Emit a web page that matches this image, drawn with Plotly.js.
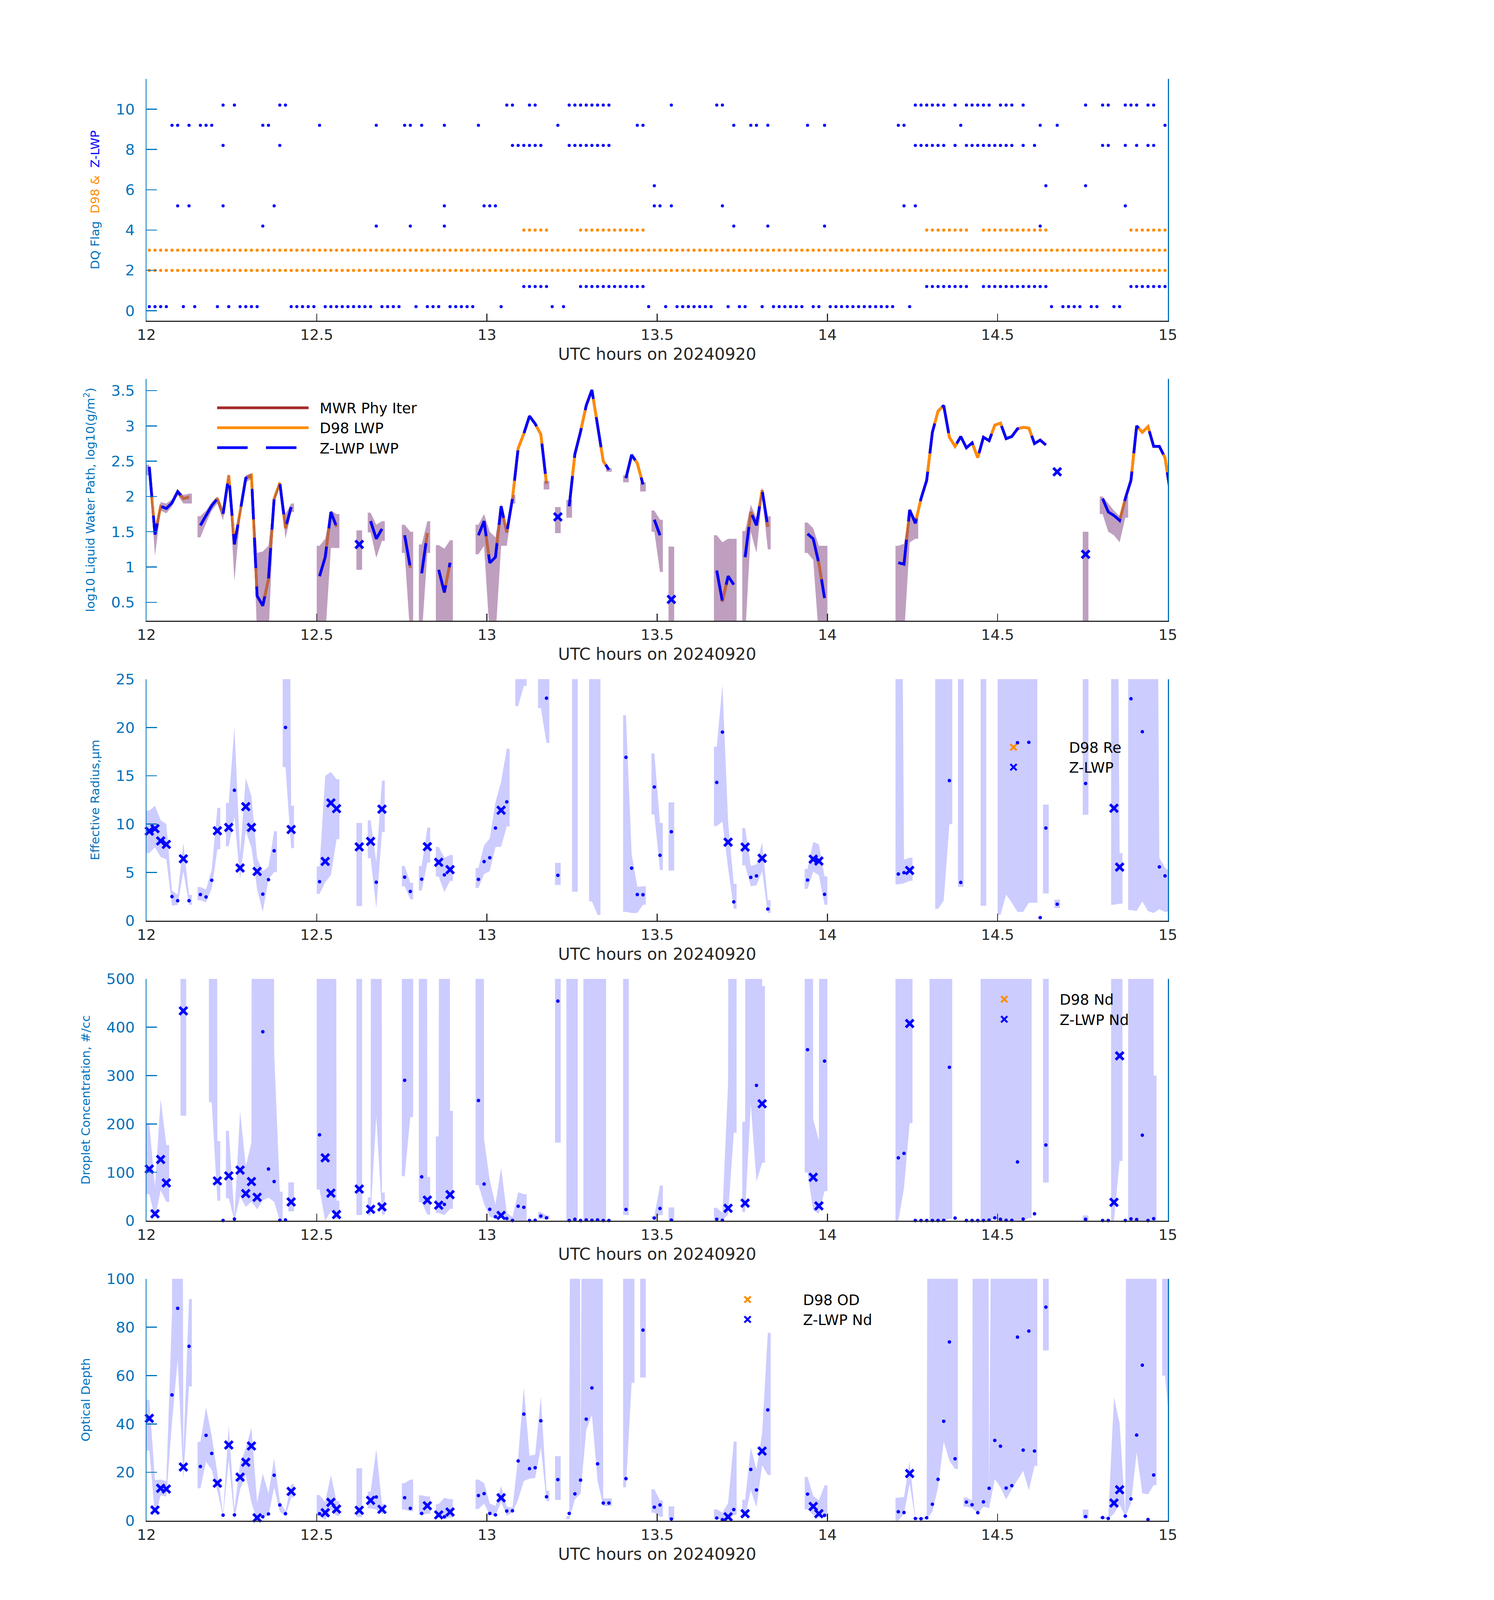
<!DOCTYPE html>
<html><head><meta charset="utf-8">
<script src="https://cdn.plot.ly/plotly-3.0.1.min.js"></script>
<style>html,body{margin:0;padding:0;background:#fff;overflow:hidden}#chart{width:3825px;height:6000px}</style>
</head><body><div id="chart"></div>
<script>
// ---------------- DATA ----------------
// time axis: minute index k after 12:00 UTC on 20240920 (k = 0..180)
const startHour = 12;
const nMinutes = 181;
const allMinutes = Array.from({length: nMinutes}, (_, k) => k);

// Panel 1: data-quality flags (minute indices at which each flag is set)
const d98Flag2Min = allMinutes;
const d98Flag3Min = allMinutes;
const d98Flag4Min = [66,67,68,69,70,76,77,78,79,80,81,82,83,84,85,86,87,137,138,139,140,141,142,143,144,147,148,149,150,151,152,153,154,155,156,157,158,173,174,175,176,177,178,179,180];
const zFlag0Min = [0,1,2,3,6,8,12,14,16,17,18,19,25,26,27,28,29,31,32,33,34,35,36,37,38,39,41,42,43,44,47,49,50,51,53,54,55,56,57,62,71,73,88,91,93,94,95,96,97,98,99,102,104,105,108,110,111,112,113,114,115,117,118,120,121,122,123,124,125,126,127,128,129,130,131,134,159,161,162,163,164,166,167,170,171];
const zFlag1Min = [66,67,68,69,70,76,77,78,79,80,81,82,83,84,85,86,87,137,138,139,140,141,142,143,144,147,148,149,150,151,152,153,154,155,156,157,158,173,174,175,176,177,178,179,180];
const zFlag4Min = [20,40,46,52,103,109,119,157];
const zFlag5Min = [5,7,13,22,52,59,60,61,89,90,92,101,133,135,172];
const zFlag6Min = [89,158,165];
const zFlag8Min = [13,23,64,65,66,67,68,69,74,75,76,77,78,79,80,81,135,136,137,138,139,140,142,144,145,146,147,148,149,150,151,152,154,156,168,169,172,174,176,177];
const zFlag9Min = [4,5,7,9,10,11,20,21,30,40,45,46,48,52,58,72,86,87,103,106,107,109,116,119,132,133,143,157,160,179];
const zFlag10Min = [13,15,23,24,63,64,67,68,74,75,76,77,78,79,80,81,92,100,101,135,136,137,138,139,140,142,144,145,146,147,148,150,151,152,154,165,168,169,172,173,174,176,177];
const zFlagOffset = 0.2;

// Panel 2: log10 LWP  [minute, value]
const lwpPairs = [[0,2.42],[1,1.46],[2,1.86],[3,1.83],[4,1.91],[5,2.07],[6,1.97],[7,1.99],
[9,1.59],[10,1.73],[11,1.87],[12,1.97],[13,1.75],[14,2.30],[15,1.32],[16,1.78],[17,2.26],[18,2.30],[19,0.59],[20,0.45],[21,0.83],[22,1.97],[23,2.19],[24,1.55],[25,1.85],
[30,0.87],[31,1.14],[32,1.78],[33,1.57],[37,1.32],[39,1.65],[40,1.40],[41,1.54],[45,1.45],[46,0.99],[48,0.91],[49,1.48],[51,0.96],[52,0.64],[53,1.06],
[58,1.45],[59,1.65],[60,1.06],[61,1.14],[62,1.86],[63,1.49],[64,1.97],[65,2.68],[66,2.89],[67,3.14],[68,3.03],[69,2.88],[70,2.18],[72,1.71],
[74,1.86],[75,2.60],[76,2.92],[77,3.29],[78,3.51],[79,3.03],[80,2.50],[81,2.38],[84,2.26],[85,2.59],[86,2.47],[87,2.17],[89,1.67],[90,1.45],[92,0.54],
[100,0.95],[101,0.51],[102,0.87],[103,0.75],[105,1.14],[106,1.78],[107,1.59],[108,2.09],[109,1.57],[116,1.47],[117,1.40],[118,1.05],[119,0.56],
[132,1.06],[133,1.04],[134,1.81],[135,1.62],[136,1.97],[137,2.23],[138,2.91],[139,3.21],[140,3.29],[141,2.84],[142,2.71],[143,2.85],[144,2.69],[145,2.76],[146,2.55],[147,2.84],[148,2.79],[149,3.01],[150,3.04],[151,2.82],[152,2.85],[153,2.96],[154,2.98],[155,2.97],[156,2.75],[157,2.80],[158,2.73],
[160,2.35],[165,1.18],[168,1.97],[169,1.78],[170,1.73],[171,1.66],[172,1.97],[173,2.23],[174,3.00],[175,2.91],[176,2.99],[177,2.71],[178,2.71],[179,2.55],[180,2.02]];
// LWP uncertainty band [minute, low, high]
const lwpBand = [[0,2.30,2.45],[1,1.16,1.55],[2,1.80,1.92],[3,1.76,1.90],[4,1.86,1.96],[5,2.02,2.10],[6,1.90,2.02],[7,1.90,2.04],
[9,1.42,1.72],[10,1.62,1.80],[11,1.80,1.92],[12,1.90,2.00],[13,1.66,1.82],[14,2.25,2.32],[15,0.80,1.40],[16,1.70,1.84],[17,2.20,2.30],[18,2.25,2.33],[19,0,1.20],[20,0,1.22],[21,0,1.30],[22,1.90,2.00],[23,2.15,2.22],[24,1.40,1.75],[25,1.78,1.90],
[30,0,1.30],[31,0,1.40],[32,1.27,1.80],[33,1.27,1.75],[37,0.96,1.52],[39,1.49,1.77],[40,1.13,1.60],[41,1.37,1.65],[45,1.20,1.60],[46,0,1.50],[48,0,1.32],[49,1.20,1.65],
[51,0,1.31],[52,0,1.26],[53,0,1.38],[58,1.18,1.60],[59,1.30,1.75],[60,0,1.50],[61,0,1.42],[62,1.30,1.90],[63,1.30,1.55],[64,1.90,2.02],[70,2.10,2.22],[72,1.48,1.85],[74,1.70,1.95],[81,2.35,2.40],
[84,2.20,2.30],[87,2.07,2.20],[89,1.50,1.80],[90,0.93,1.67],[92,0,1.29],[100,0,1.45],[101,0,1.35],[102,0,1.40],[103,0,1.40],[105,0,1.51],[106,1.50,1.88],[107,1.20,1.70],[108,2.00,2.13],[109,1.25,1.72],
[116,1.20,1.63],[117,1.10,1.55],[118,0,1.30],[119,0,1.30],[132,0,1.30],[133,0,1.33],[134,1.35,1.80],[135,1.40,1.70],[165,0,1.50],[168,1.75,2.00],[169,1.50,1.90],[170,1.45,1.80],[171,1.35,1.72],[172,1.70,2.00]];

// Panel 3: effective radius (um)
const rePairs = [[0,9.27],[1,9.53],[2,8.26],[3,7.9],[4,2.5],[5,2.07],[6,6.41],[7,2.07],[9,2.71],[10,2.46],[11,4.19],[12,9.31],[14,9.65],[15,13.5],[16,5.46],[17,11.81],[18,9.65],[19,5.10],[20,2.75],[21,4.25],[22,7.24],[24,20.0],[25,9.44],
[30,4.04],[31,6.14],[32,12.19],[33,11.6],[37,7.64],[39,8.21],[40,3.98],[41,11.54],[45,4.51],[46,3.03],[48,4.30],[49,7.66],[51,6.05],[52,4.74],[53,5.29],[58,4.28],[59,6.12],[60,6.52],[61,9.59],[62,11.43],[63,12.30],[70,23.03],[72,4.70],
[84,16.91],[85,5.44],[86,2.71],[87,2.69],[89,13.84],[90,6.77],[92,9.21],[100,14.31],[101,19.52],[102,8.13],[103,1.95],[105,7.62],[106,4.49],[107,4.64],[108,6.46],[109,1.21],[116,4.21],[117,6.37],[118,6.18],[119,2.73],
[132,4.83],[133,4.97],[134,5.21],[141,14.5],[143,3.96],[153,18.42],[155,18.46],[157,0.32],[158,9.59],[160,1.71],[165,14.2],[170,11.64],[171,5.55],[173,22.97],[175,19.56],[178,5.57],[179,4.64],[180,4.28]];
const reBand = [[0,7.0,11.4],[1,7.6,11.9],[2,6.6,10.4],[3,6.35,10.0],[4,1.55,3.13],[5,1.65,2.7],[6,5.12,8.07],[7,1.65,2.67],[9,2.12,3.49],[10,1.9,3.24],[11,3.34,5.29],[12,7.39,11.68],[14,7.7,12.19],[15,10.75,20.07],[16,4.3,6.94],[17,9.27,14.78],[18,7.58,12.87],[19,3.24,6.48],[20,0.91,5.14],[21,4.3,5.57],[22,5.04,9.27],[24,15.9,99],[25,7.51,11.9],
[30,2.77,5.61],[31,3.98,14.99],[32,4.72,15.4],[33,8.43,14.63],[37,1.52,10.12],[39,6.48,10.39],[40,1.27,6.1],[41,9.17,14.5],[45,3.56,5.67],[46,2.22,3.92],[48,3.13,5.67],[49,6.03,9.63],[51,4.57,7.64],[52,2.96,6.52],[53,4.13,6.8],
[58,3.39,5.46],[59,4.83,7.79],[60,5.14,8.53],[61,7.62,12.24],[62,7.66,14.42],[63,9.76,17.8],[65,22.2,99],[66,24.3,99],[69,22.0,99],[70,18.4,99],[72,3.7,5.99],[75,3.0,99],[78,2.0,99],[79,0.6,99],
[84,0.91,21.27],[85,0.8,6.94],[86,0.8,3.51],[87,1.65,3.56],[89,11.0,17.32],[90,5.25,10.12],[92,5.19,12.24],[100,9.8,18.0],[101,10.27,24.4],[102,5.46,10.27],[103,1.23,3.83],[105,5.74,9.59],[106,3.56,5.67],[107,3.66,5.82],[108,5.12,8.11],[109,0.8,2.12],
[116,3.3,5.36],[117,5.08,8.17],[118,4.7,7.9],[119,1.65,4.59],[132,3.77,99],[133,3.87,6.31],[134,4.13,6.52],[139,1.23,99],[140,2.07,99],[141,10.0,99],[143,3.5,99],[147,1.55,99],
[150,0.6,99],[151,2.7,99],[152,1.86,99],[153,0.91,99],[154,0.91,99],[155,1.86,99],[156,1.86,99],[158,2.82,12.02],[160,1.33,2.18],[165,10.97,99],[170,1.65,99],[171,1.76,7.0],
[173,1.1,99],[174,1.0,99],[175,2.0,99],[176,1.0,99],[177,0.8,99],[178,1.2,6.5],[179,0.9,5.5],[180,1.0,5.0]];

// Panel 4: droplet concentration (#/cc)
const ndPairs = [[0,106.8],[1,14.3],[2,126.6],[3,78.1],[6,433.8],[12,82.3],[13,0.4],[14,92.8],[15,3.4],[16,104.6],[17,56.1],[18,81.0],[19,48.5],[20,390.7],[21,106.8],[22,81.0],[23,0.8],[24,1.7],[25,38.8],
[30,177.6],[31,130.0],[32,57.0],[33,12.7],[37,65.4],[39,23.6],[41,28.7],[45,290.3],[48,90.7],[49,42.6],[51,32.1],[52,33.8],[53,54.0],[58,248.5],[59,75.9],[60,23.6],[61,8.4],[62,11.0],[63,4.6],[64,0.4],[65,30.0],[66,27.8],[67,0.4],[68,0.8],[69,9.7],[70,5.9],
[72,454],[74,0.4],[75,3.0],[76,0.4],[77,1.7],[78,0.8],[79,1.7],[80,0.4],[81,0.4],[84,23.2],[89,5.5],[90,25.3],[92,1.3],[100,3.0],[101,0.8],[102,25.7],[105,36.3],[107,279.7],[108,241.8],[116,353.6],[117,89.9],[118,30.8],[119,330],
[132,130],[133,139.2],[134,407.6],[135,0.4],[136,0.4],[137,0.4],[138,0.4],[139,0.4],[140,0.8],[141,317.3],[142,5.5],[144,0.4],[145,0.4],[146,0.4],[147,0.4],[148,1.3],[149,5.9],[150,3.0],[151,0.8],[152,0.8],[153,121.5],[154,3.4],[156,14.3],[158,156.5],
[165,3.0],[168,0.4],[169,0.4],[170,38.0],[171,340.9],[172,0.4],[173,3.8],[174,2.5],[175,176.8],[176,0.4],[177,4.2]];
const ndBand = [[0,55,200],[1,5,70],[2,63,252],[3,39,156.5],[6,217,9999],[11,245,9999],[12,41.4,164.6],[14,46.4,185.7],[15,0,10.5],[16,49.8,226],[17,28.7,113],[18,39.2,161.6],[19,23.6,9999],[20,42.2,9999],[21,47.7,9999],[22,39.2,350],[23,0,60],[25,19.4,79.3],
[30,64.6,9999],[31,0,9999],[32,20.3,9999],[33,3.4,41.4],[37,11.8,9999],[39,11,48.5],[40,215.6,9999],[41,12.7,58.2],[45,92,9999],[46,214.3,9999],[48,38,9999],[49,12.7,90.7],[51,16,174.3],[52,11.8,9999],[53,24.5,227],
[58,73.8,9999],[59,35,168],[60,8.4,83.5],[61,3.4,33.8],[62,5.5,109.7],[63,0,16],[64,0,7.6],[65,0,59],[66,0,54.9],[69,3.4,18],[70,3.4,11],[72,161.6,9999],[74,0,9999],[75,0,9999],[77,0,9999],[78,0,9999],[79,0,9999],[80,0,9999],[84,11.8,9999],
[89,3.4,9.7],[90,11.8,73],[92,0,27.4],[100,2,26.6],[101,0,16],[102,12.7,284],[103,182,9999],[105,18.1,204.6],[106,239.7,9999],[107,80.6,9999],[108,120,485],[116,99.6,9999],[117,21,210],[118,14.8,165.8],[119,61.2,9999],
[132,0,9999],[133,67.5,9999],[134,201.7,9999],[138,0,9999],[139,0,9999],[140,0,9999],[141,4,9999],[147,0,9999],[148,0,9999],[149,5.5,9999],[150,0,9999],[151,0,9999],[152,0,9999],[153,0,9999],[154,0,9999],[155,5.5,9999],[158,79,9999],
[165,0,11],[170,0,9999],[171,123.6,9999],[173,0,9999],[174,0,9999],[175,0,9999],[176,0,9999],[177,0,300]];

// Panel 5: optical depth
const odPairs = [[0,42.3],[1,4.4],[2,13.4],[3,13.1],[4,52.0],[5,87.8],[6,22.2],[7,72.1],[9,22.4],[10,35.3],[11,27.8],[12,15.5],[13,2.3],[14,31.3],[15,2.4],[16,18.0],[17,24.2],[18,30.9],[19,1.2],[20,1.6],[21,2.8],[22,18.8],[23,6.5],[24,2.9],[25,12.1],
[30,2.9],[31,3.3],[32,7.6],[33,4.8],[37,4.3],[39,8.4],[40,9.8],[41,4.7],[45,9.5],[46,5.1],[48,3.0],[49,6.2],[51,2.4],[52,1.6],[53,3.6],[58,10.4],[59,11.2],[60,3.0],[61,2.4],[62,9.5],[63,4.0],[64,4.1],[65,24.7],[66,44.1],[67,21.5],[68,21.9],[69,41.3],[70,9.9],
[72,17.0],[74,3.0],[75,11.1],[76,16.8],[77,42.0],[78,54.9],[79,23.5],[80,7.3],[81,7.3],[84,17.4],[87,78.8],[89,5.6],[90,6.5],[92,0.7],[100,1.1],[101,0.4],[102,1.6],[103,4.6],[105,2.9],[106,21.2],[107,12.7],[108,28.8],[109,45.8],
[116,11.0],[117,5.9],[118,2.9],[119,2.2],[132,3.7],[133,3.4],[134,19.5],[135,0.9],[136,0.8],[137,1.2],[138,6.8],[139,17.1],[140,41.1],[141,73.9],[142,25.6],[144,7.7],[145,6.6],[146,3.3],[147,7.8],[148,13.4],[149,33.2],[150,30.8],[151,13.5],[152,14.5],[153,75.9],[154,29.2],[155,78.4],[156,28.8],[158,88.3],
[165,1.7],[168,1.3],[169,0.9],[170,7.3],[171,12.8],[172,1.9],[173,9.0],[174,35.4],[175,64.3],[176,0.5],[177,18.9],[180,44.5]];
const odBand = [[0,29,50],[1,1.9,16.8],[2,10.5,17],[3,10,16.4],[4,40.6,86],[5,66.8,999],[6,17.3,27.9],[7,55.5,91.6],[9,13.4,32.6],[10,24.4,46.9],[11,21.0,35.1],[12,12.3,19.5],[13,1.6,2.9],[14,25.0,39.4],[15,0.5,4.7],[16,13.0,23.5],[17,18.9,29.9],[18,7.5,38.5],[19,0,7.5],[20,1.6,19.5],[21,2.0,11.3],[22,13.8,25.8],[23,3.7,7.9],[24,1.9,4.0],[25,9.6,15.1],
[30,2.0,10.6],[31,0.2,7.7],[32,4.6,18.9],[33,2.0,8.1],[37,1.5,21.7],[39,5.1,12.0],[40,4.6,29.6],[41,2.9,6.9],[45,4.6,15.5],[46,3.9,17.0],[48,2.4,10.5],[49,2.9,10.0],[51,1.4,6.9],[52,0.8,9.5],[53,1.2,8.9],
[58,4.8,17.0],[59,7.1,15.5],[60,2.4,7.1],[61,2.0,6.1],[62,7.7,14.4],[63,2.0,5.8],[64,3.3,5.4],[65,8.8,26.1],[66,16.4,55.2],[67,17.4,26.9],[68,17.6,27.3],[69,30.3,51.4],[70,8.1,12.4],[72,8.6,26.7],[74,0.5,1.9],[75,8.8,999],[76,11.3,21.4],[77,37.5,999],[78,43.8,999],[79,16.4,999],[80,6.1,9.2],[81,6.1,9.2],
[84,13.8,999],[85,57,999],[87,59.2,999],[89,3.3,13.0],[90,1.6,8.4],[92,0.5,5.9],[100,0.8,4.7],[101,0,3.3],[102,0,7.3],[103,2.4,32.7],[105,1.6,8.7],[106,12.7,30.3],[107,5.6,21.2],[108,22.9,36.2],[109,18.9,77.7],
[116,4.7,18.1],[117,2.4,10.3],[118,1.2,8.4],[119,1.6,14.6],[132,0,9.5],[133,2.9,9.8],[134,15.4,24.6],[135,0.4,1.4],[136,0.5,1.2],[137,0.8,1.6],[138,3.7,999],[139,13.8,999],[140,32.8,999],[141,24.8,999],[142,21.4,999],
[144,5.8,9.6],[145,5.2,8.4],[146,3.0,999],[147,5.8,999],[148,5.2,11.3],[149,17.2,999],[150,13.8,999],[151,8.8,999],[152,13.0,999],[153,16.8,999],[154,20.6,999],[155,12.6,999],[156,22.7,999],[158,70.4,999],
[165,1.0,4.6],[168,0.7,1.6],[169,0.7,1.6],[170,2.9,51],[171,6.7,40.2],[172,1.6,2.4],[173,7.1,999],[174,28.2,999],[175,11.3,999],[176,10.9,999],[177,14.7,999],[179,60,999],[180,35,999]];

// ---------------- SIZE (fit the visible window height) ----------------
const W = 3825;
const H = Math.min(6000, Math.max(1500, window.innerHeight || 6000));
const sy = H / 6000;
document.getElementById('chart').style.height = H + 'px';
const mt = Math.round(296 * sy), mb = Math.round(297 * sy);
const plotH = H - mt - mb;
const fTick = Math.round(42 * (0.7 + 0.3 * sy));
const fXTitle = Math.round(46 * (0.7 + 0.3 * sy));
const fYTitle = Math.round(46 * sy);
const fLegend = Math.round(42 * (0.6 + 0.4 * sy));
const legendY = refRowPx => ((H - mb) - (refRowPx * sy - 0.62 * fLegend)) / plotH;

// ---------------- HELPERS ----------------
const FONT = 'DejaVu Sans, Liberation Sans, sans-serif';
const BLUE = '#0000FF', ORANGE = '#FF8C00', BROWN = '#A52A2A', AXBLUE = '#0072BD', DARK = '#262626';
const tHour = k => startHour + (k + 0.5) / 60;
const goodSet = new Set(zFlag0Min);
const xSize = Math.round(22 * (0.7 + 0.3 * sy));

function fullSeries(pairs) {
  const y = new Array(nMinutes).fill(null);
  pairs.forEach(([k, v]) => { y[k] = v; });
  return y;
}
// band polygons: linear between minute centres, flat half-minute caps at segment ends
function bandShape(band) {
  const x = [], y = [];
  let i = 0;
  while (i < band.length) {
    let j = i;
    while (j + 1 < band.length && band[j + 1][0] === band[j][0] + 1) j++;
    const ux = [], uy = [], lx = [], ly = [];
    const kA = band[i][0], kB = band[j][0];
    ux.push(startHour + kA / 60); uy.push(band[i][2]); lx.push(startHour + kA / 60); ly.push(band[i][1]);
    for (let n = i; n <= j; n++) {
      const [k, lo, hi] = band[n];
      ux.push(tHour(k)); uy.push(hi); lx.push(tHour(k)); ly.push(lo);
    }
    ux.push(startHour + (kB + 1) / 60); uy.push(band[j][2]); lx.push(startHour + (kB + 1) / 60); ly.push(band[j][1]);
    x.push(...ux, ...lx.reverse(), ux[0], null);
    y.push(...uy, ...ly.reverse(), uy[0], null);
    i = j + 1;
  }
  return {x, y};
}
function flagPoints(lists) {
  const x = [], y = [];
  lists.forEach(([lvl, mins]) => mins.forEach(k => { x.push(tHour(k)); y.push(lvl); }));
  return {x, y};
}

const traces = [];
// ---- Panel 1
const d98pts = flagPoints([[2, d98Flag2Min], [3, d98Flag3Min], [4, d98Flag4Min]]);
traces.push({type: 'scatter', mode: 'markers', x: d98pts.x, y: d98pts.y, xaxis: 'x', yaxis: 'y', showlegend: false, cliponaxis: false,
  marker: {color: ORANGE, size: 8}});
const zpts = flagPoints([[0, zFlag0Min], [1, zFlag1Min], [4, zFlag4Min], [5, zFlag5Min], [6, zFlag6Min], [8, zFlag8Min], [9, zFlag9Min], [10, zFlag10Min]]
  .map(([l, m]) => [l + zFlagOffset, m]));
traces.push({type: 'scatter', mode: 'markers', x: zpts.x, y: zpts.y, xaxis: 'x', yaxis: 'y', showlegend: false, cliponaxis: false,
  marker: {color: BLUE, size: 8}});

// ---- Panel 2
const xGrid = allMinutes.map(tHour);
const lwpY = fullSeries(lwpPairs);
const nb = '\u00a0';
traces.push({type: 'scatter', mode: 'lines', x: xGrid, y: lwpY, xaxis: 'x2', yaxis: 'y2', name: nb + nb + 'MWR Phy Iter', legend: 'legend',
  line: {color: BROWN, width: 7}, connectgaps: false});
traces.push({type: 'scatter', mode: 'lines', x: xGrid, y: lwpY, xaxis: 'x2', yaxis: 'y2', name: nb + nb + 'D98 LWP', legend: 'legend',
  line: {color: ORANGE, width: 7}, connectgaps: false});
const lb = bandShape(lwpBand);
traces.push({type: 'scatter', mode: 'lines', x: lb.x, y: lb.y, xaxis: 'x2', yaxis: 'y2', fill: 'toself', fillcolor: 'rgba(128,64,128,0.5)',
  line: {width: 0}, showlegend: false, hoverinfo: 'skip'});
traces.push({type: 'scatter', mode: 'lines', x: xGrid, y: lwpY, xaxis: 'x2', yaxis: 'y2', name: nb + nb + 'Z-LWP LWP', legend: 'legend',
  line: {color: BLUE, width: 7, dash: '78px,47px'}, connectgaps: false});
const isoX = [], isoY = [];
lwpY.forEach((v, k) => { if (v !== null && (k === 0 || lwpY[k - 1] === null) && (k === nMinutes - 1 || lwpY[k + 1] === null)) { isoX.push(tHour(k)); isoY.push(v); } });
traces.push({type: 'scatter', mode: 'markers', x: isoX, y: isoY, xaxis: 'x2', yaxis: 'y2', showlegend: false,
  marker: {symbol: 'x-thin', size: xSize, color: BLUE, line: {color: BLUE, width: 7}}});

// ---- Panels 3-5
function microPanel(pairs, band, ax, legendId, d98Name, zName) {
  const b = bandShape(band);
  traces.push({type: 'scatter', mode: 'lines', x: b.x, y: b.y, xaxis: 'x' + ax, yaxis: 'y' + ax, fill: 'toself', fillcolor: 'rgba(0,0,255,0.2)',
    line: {width: 0}, showlegend: false, hoverinfo: 'skip'});
  traces.push({type: 'scatter', mode: 'markers', x: [null], y: [null], xaxis: 'x' + ax, yaxis: 'y' + ax, name: d98Name, legend: legendId,
    marker: {symbol: 'x-thin', size: xSize, color: ORANGE, line: {color: ORANGE, width: 7}}});
  const dx = [], dy = [], gx = [], gy = [];
  pairs.forEach(([k, v]) => { if (goodSet.has(k)) { gx.push(tHour(k)); gy.push(v); } else { dx.push(tHour(k)); dy.push(v); } });
  traces.push({type: 'scatter', mode: 'markers', x: dx, y: dy, xaxis: 'x' + ax, yaxis: 'y' + ax, showlegend: false, cliponaxis: false,
    marker: {color: BLUE, size: 9}});
  traces.push({type: 'scatter', mode: 'markers', x: gx, y: gy, xaxis: 'x' + ax, yaxis: 'y' + ax, name: zName, legend: legendId, cliponaxis: false,
    marker: {symbol: 'x-thin', size: xSize, color: BLUE, line: {color: BLUE, width: 7}}});
}
microPanel(rePairs, reBand, 3, 'legend2', 'D98 Re', 'Z-LWP');
microPanel(ndPairs, ndBand, 4, 'legend3', 'D98 Nd', 'Z-LWP Nd');
microPanel(odPairs, odBand, 5, 'legend4', 'D98 OD', 'Z-LWP Nd');

// ---------------- LAYOUT ----------------
const domains = [[0.83226, 1.0], [0.62419, 0.79194], [0.41613, 0.58369], [0.20806, 0.37581], [0.0, 0.16775]];
const yRanges = [[-0.5, 11.5], [0.238, 3.667], [0, 25], [0, 500], [0, 100]];
const yDticks = [2, 0.5, 5, 100, 20];
const yTick0 = [0, 0.5, 0, 0, 0];
const yTitles = [
  'DQ Flag' + nb + nb + '<span style="color:' + ORANGE + '">D98 &amp;</span>' + nb + nb + '<span style="color:' + BLUE + '">Z-LWP</span>',
  'log10 Liquid Water Path, log10(g/m<sup>2</sup>)',
  'Effective Radius,\u03bcm',
  'Droplet Concentration, #/cc',
  'Optical Depth'];

const legendBase = {xanchor: 'left', yanchor: 'top', bgcolor: 'rgba(0,0,0,0)', font: {family: FONT, size: fLegend, color: '#000'}};
const layout = {
  width: W, height: H,
  margin: {l: 375, r: 835, t: mt, b: mb, pad: 0},
  paper_bgcolor: '#fff', plot_bgcolor: 'rgba(0,0,0,0)',
  font: {family: FONT, size: fTick, color: '#000'},
  showlegend: true,
  legend: Object.assign({}, legendBase, {x: 0.0673, y: legendY(1518), itemwidth: 234}),
  legend2: Object.assign({}, legendBase, {x: 0.7946, y: legendY(2791), itemwidth: 274}),
  legend3: Object.assign({}, legendBase, {x: 0.7855, y: legendY(3736), itemwidth: 274}),
  legend4: Object.assign({}, legendBase, {x: 0.5342, y: legendY(4862), itemwidth: 274})
};
const xStandoff = Math.max(0, 116 * sy - 33 * (fTick / 42) - fTick / 2 - 0.37 * fXTitle);
for (let i = 0; i < 5; i++) {
  const s = i === 0 ? '' : String(i + 1);
  layout['xaxis' + s] = {
    domain: [0, 1], anchor: 'y' + s, range: [12, 15], tick0: 12, dtick: 0.5,
    ticks: 'inside', ticklen: Math.round(27 * sy), tickwidth: 2.5, tickcolor: DARK,
    showline: true, linecolor: DARK, linewidth: 3, mirror: false, showgrid: false, zeroline: false,
    tickfont: {family: FONT, size: fTick, color: DARK},
    title: {text: 'UTC hours on 20240920', font: {family: FONT, size: fXTitle, color: DARK}, standoff: xStandoff}
  };
  layout['yaxis' + s] = {
    domain: domains[i], anchor: 'x' + s, range: yRanges[i], tick0: yTick0[i], dtick: yDticks[i],
    ticks: 'inside', ticklen: 27, tickwidth: 2.5, tickcolor: AXBLUE, ticklabelstandoff: 20,
    showline: true, linecolor: AXBLUE, linewidth: 2.5, mirror: true, showgrid: false, zeroline: false,
    tickfont: {family: FONT, size: fTick, color: AXBLUE},
    title: {text: yTitles[i], font: {family: FONT, size: fYTitle, color: AXBLUE}, standoff: 25 + (46 - fYTitle) / 2}
  };
}
Plotly.newPlot('chart', traces, layout, {displayModeBar: false, staticPlot: true});
</script>
</body></html>
